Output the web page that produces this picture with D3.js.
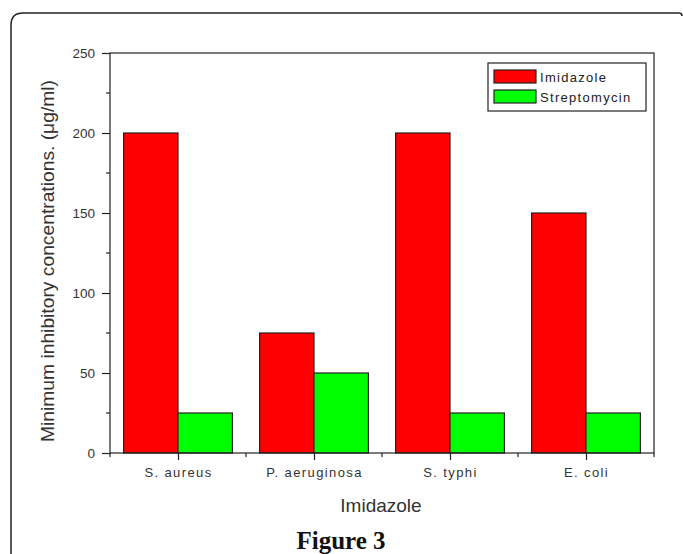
<!DOCTYPE html>
<html><head><meta charset="utf-8">
<script src="https://cdnjs.cloudflare.com/ajax/libs/d3/7.8.5/d3.min.js"></script>
<style>body{margin:0;background:#fff}svg{display:block}</style>
</head><body>
<script>
const categories = ["S. aureus", "P. aeruginosa", "S. typhi", "E. coli"];
const seriesNames = ["Imidazole", "Streptomycin"];
const imidazole = [200, 75, 200, 150];
const streptomycin = [25, 50, 25, 25];
const yTicks = [0, 50, 100, 150, 200, 250];
const colors = ["#ff0000", "#00ff00"];

const W = 683, H = 554;
const FONT = "Arial, 'Liberation Sans', sans-serif";
const svg = d3.select("body").append("svg").attr("width", W).attr("height", H);

// outer frame (left + top, rounded)
svg.append("path")
  .attr("d", "M11,560 L11,25 Q11,13 23,13 L679,13 Q682,13 682,16")
  .attr("fill", "none").attr("stroke", "#222").attr("stroke-width", 1.5);

const L = 110, R = 654, T = 53, B = 453;
const x = d3.scaleBand().domain(categories).range([L, R]).paddingInner(0.2).paddingOuter(0.1);
const xs = d3.scaleBand().domain(seriesNames).range([0, x.bandwidth()]);
const y = d3.scaleLinear().domain([0, 250]).range([B, T]);

const data = categories.map((c, i) => ({cat: c, vals: [imidazole[i], streptomycin[i]]}));

// bars
const g = svg.append("g");
data.forEach(d => {
  d.vals.forEach((v, j) => {
    g.append("rect")
      .attr("x", x(d.cat) + xs(seriesNames[j]))
      .attr("y", y(v))
      .attr("width", xs.bandwidth())
      .attr("height", B - y(v))
      .attr("fill", colors[j]).attr("stroke", "#222").attr("stroke-width", 1.2);
  });
});

// plot box
svg.append("rect").attr("x", L).attr("y", T).attr("width", R - L).attr("height", B - T)
  .attr("fill", "none").attr("stroke", "#222").attr("stroke-width", 1.2);

// y axis
const yAx = svg.append("g").attr("transform", `translate(${L},0)`)
  .call(d3.axisLeft(y).tickValues(yTicks).tickSize(8).tickPadding(7));
yAx.select(".domain").remove();
yAx.selectAll("line").attr("stroke", "#222").attr("stroke-width", 1.2);
yAx.selectAll("text").attr("font-family", FONT)
  .attr("font-size", 13.5).attr("fill", "#333");
// minor y ticks
const yMinor = d3.range(25, 250, 50);
svg.append("g").selectAll("line").data(yMinor).join("line")
  .attr("x1", L - 4).attr("x2", L).attr("y1", d => y(d)).attr("y2", d => y(d))
  .attr("stroke", "#222").attr("stroke-width", 1.2);

// x axis ticks
const centers = categories.map(c => x(c) + x.bandwidth() / 2);
const xAx = svg.append("g").attr("transform", `translate(0,${B})`)
  .call(d3.axisBottom(d3.scalePoint().domain(categories).range([centers[0], centers[3]])).tickSize(7).tickPadding(8));
xAx.select(".domain").remove();
xAx.selectAll("line").attr("stroke", "#222").attr("stroke-width", 1.2);
xAx.selectAll("text").attr("font-family", FONT)
  .attr("font-size", 13).attr("fill", "#333").attr("letter-spacing", 1.4);
// minor x ticks at band boundaries
const step = x.step();
const xMinor = d3.range(0, categories.length + 1).map(i => L + i * step);
svg.append("g").selectAll("line").data(xMinor).join("line")
  .attr("x1", d => d).attr("x2", d => d).attr("y1", B).attr("y2", B + 4)
  .attr("stroke", "#222").attr("stroke-width", 1.2);

// axis titles
svg.append("text").attr("x", 381).attr("y", 512).attr("text-anchor", "middle")
  .attr("font-family", FONT).attr("font-size", 19).attr("fill", "#333")
  .text("Imidazole");
svg.append("text").attr("transform", "translate(54,261) rotate(-90)").attr("text-anchor", "middle")
  .attr("font-family", FONT).attr("font-size", 18).attr("fill", "#333")
  .attr("textLength", 362).attr("lengthAdjust", "spacingAndGlyphs")
  .text("Minimum inhibitory concentrations. (μg/ml)");

// legend
const lg = svg.append("g");
lg.append("rect").attr("x", 488).attr("y", 63).attr("width", 158).attr("height", 48)
  .attr("fill", "#fff").attr("stroke", "#222").attr("stroke-width", 1.2);
seriesNames.forEach((n, j) => {
  lg.append("rect").attr("x", 494).attr("y", 70 + j * 20).attr("width", 42).attr("height", 13)
    .attr("fill", colors[j]).attr("stroke", "#222").attr("stroke-width", 1.2);
  lg.append("text").attr("x", 540).attr("y", 81.5 + j * 20)
    .attr("font-family", FONT).attr("font-size", 13).attr("fill", "#222")
    .attr("letter-spacing", 1.3).text(n);
});

// figure caption
svg.append("text").attr("x", 341).attr("y", 549).attr("text-anchor", "middle")
  .attr("font-family", "'Liberation Serif', 'Times New Roman', serif").attr("font-weight", "bold")
  .attr("font-size", 25).attr("fill", "#111").text("Figure 3");
</script>
</body></html>
